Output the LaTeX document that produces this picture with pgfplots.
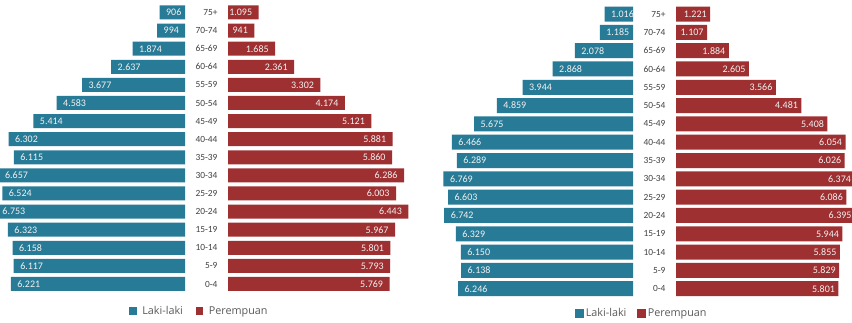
\documentclass[border=0pt]{standalone}
\usepackage{pgfplots}
\pgfplotsset{compat=1.18}
\usepackage{pgfplotstable}
\usepackage{fontspec}
\setmainfont{Carlito}
\newfontfamily\legfont{Open Sans}
\definecolor{lm}{RGB}{40,123,150}
\definecolor{pr}{RGB}{158,48,50}
\definecolor{agec}{RGB}{64,64,64}
\definecolor{legc}{RGB}{89,89,89}

\pgfplotstableread{
age idx male female
0-4 0 6221 5769
5-9 1 6117 5793
10-14 2 6158 5801
15-19 3 6323 5967
20-24 4 6753 6443
25-29 5 6524 6003
30-34 6 6657 6286
35-39 7 6115 5860
40-44 8 6302 5881
45-49 9 5414 5121
50-54 10 4583 4174
55-59 11 3677 3302
60-64 12 2637 2361
65-69 13 1874 1685
70-74 14 994 941
75+ 15 906 1095
}\dataA

\pgfplotstableread{
age idx male female
0-4 0 6246 5801
5-9 1 6138 5829
10-14 2 6150 5855
15-19 3 6329 5944
20-24 4 6742 6395
25-29 5 6603 6086
30-34 6 6769 6374
35-39 7 6289 6026
40-44 8 6466 6054
45-49 9 5675 5408
50-54 10 4859 4481
55-59 11 3944 3566
60-64 12 2868 2605
65-69 13 2078 1884
70-74 14 1185 1107
75+ 15 1016 1221
}\dataB

\pgfplotsset{
  pyr/.style={
    scale only axis, width=196pt, clip=false,
    ymin=-0.5, ymax=15.5,
    axis line style={draw=none}, tick style={draw=none},
    major tick length=0pt,
    xtick=\empty, ytick=\empty,
    xbar,
    nodes near coords, point meta=explicit,
    /pgf/number format/fixed,
    /pgf/number format/precision=0,
    /pgf/number format/1000 sep={.},
    /pgf/number format/assume math mode=true,
    every node near coord/.append style={font=\fontsize{10}{12}\selectfont, text=white!95!black},
  },
  ages/.style={
    ytick={0,...,15},
    yticklabel style={font=\fontsize{9.4}{11}\selectfont, text=agec, anchor=east, xshift=-7pt},
  },
  leg/.style={
    legend style={draw=none, fill=none, legend columns=2, anchor=center,
      font=\legfont\fontsize{10.8}{12}\selectfont, text=legc,
      inner sep=0pt},
  },
}

\begin{document}
\begin{tikzpicture}
\useasboundingbox (0,0) rectangle (852pt,323pt);

% ---------- left pyramid ----------
\begin{axis}[pyr, at={(-11pt,29.95pt)}, anchor=south west, height=289.6pt,
  xmin=-7000, xmax=0,
  every node near coord/.append style={anchor=west, xshift=3pt}]
\addplot[fill=lm, draw=none, bar width=14pt, bar shift=0pt] table[x expr=-\thisrow{male}, y=idx, meta=male]{\dataA};
\end{axis}

\begin{axis}[pyr, ages, leg, at={(228pt,29.95pt)}, anchor=south west, height=289.6pt,
  xmin=0, xmax=7000,
  yticklabels from table={\dataA}{age},
  every node near coord/.append style={anchor=east, xshift=-3pt},
  legend style={at={(-0.1454,-0.062)},
    /tikz/every odd column/.append style={column sep=4pt},
    /tikz/every even column/.append style={column sep=11pt}}]
\addplot[fill=pr, draw=none, bar width=14pt, bar shift=0pt, forget plot] table[x=female, y=idx, meta=female]{\dataA};
\addlegendimage{legend image code/.code={\fill[lm] (0pt,-3pt) rectangle (6.5pt,3.5pt);}}
\addlegendentry{Laki-laki}
\addlegendimage{legend image code/.code={\fill[pr] (0pt,-3pt) rectangle (6.5pt,3.5pt);}}
\addlegendentry{Perempuan}
\end{axis}

% ---------- right pyramid ----------
\begin{axis}[pyr, at={(437pt,25.1pt)}, anchor=south west, height=293pt,
  xmin=-7000, xmax=0,
  every node near coord/.append style={anchor=west, xshift=3pt}]
\addplot[fill=lm, draw=none, bar width=15pt, bar shift=0pt] table[x expr=-\thisrow{male}, y=idx, meta=male]{\dataB};
\end{axis}

\begin{axis}[pyr, ages, leg, at={(676pt,25.1pt)}, anchor=south west, height=293pt,
  xmin=0, xmax=7000,
  yticklabels from table={\dataB}{age},
  every node near coord/.append style={anchor=east, xshift=0pt},
  legend style={at={(-0.1735,-0.0515)},
    /tikz/every even column/.append style={column sep=9pt}}]
\addplot[fill=pr, draw=none, bar width=15pt, bar shift=0pt, forget plot] table[x=female, y=idx, meta=female]{\dataB};
\addlegendimage{legend image code/.code={\fill[lm] (0pt,-4pt) rectangle (8pt,4pt);}}
\addlegendentry{Laki-laki}
\addlegendimage{legend image code/.code={\fill[pr] (0pt,-4pt) rectangle (8pt,4pt);}}
\addlegendentry{Perempuan}
\end{axis}
\end{tikzpicture}
\end{document}
